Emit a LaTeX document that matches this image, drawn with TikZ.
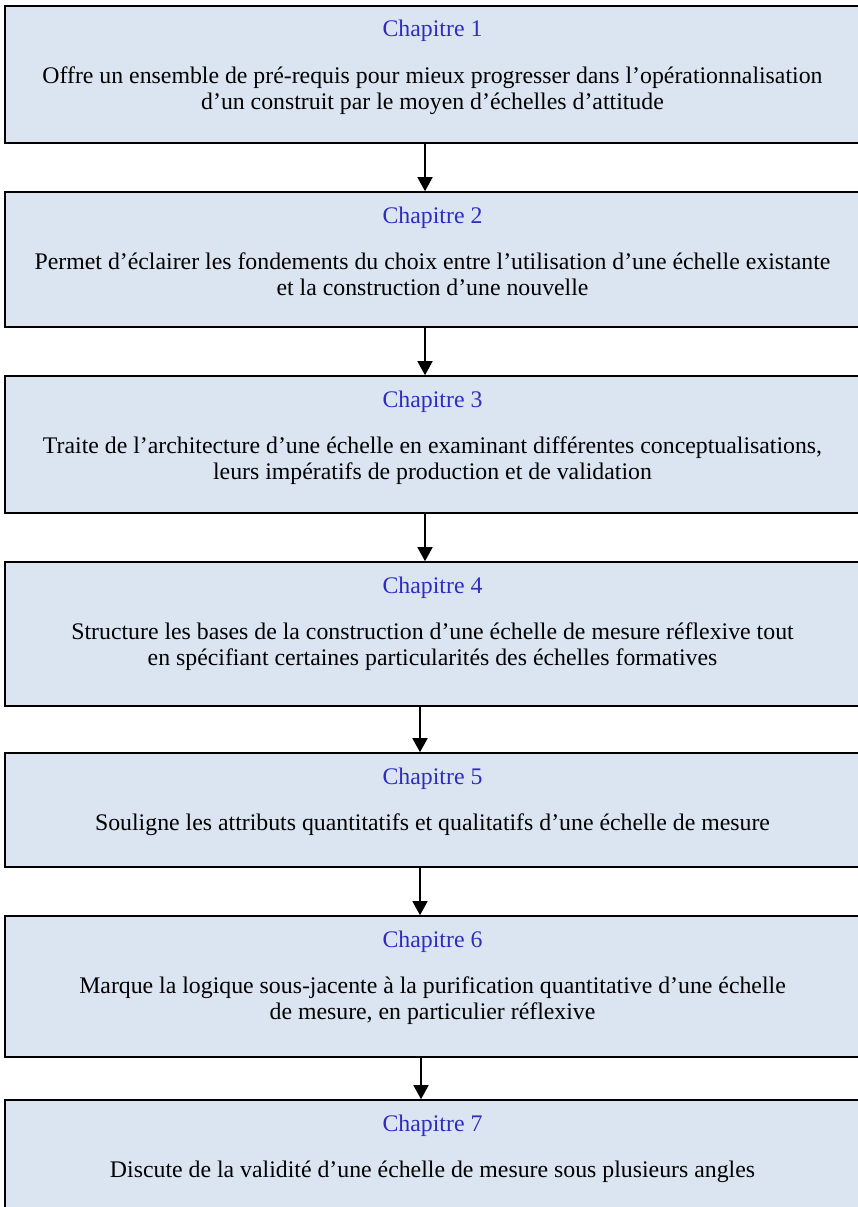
\documentclass[tikz,border=0pt]{standalone}
\usepackage{fontspec}
\setmainfont{Liberation Serif}
\usepackage{tikz}
\definecolor{boxfill}{RGB}{219, 229, 241}
\definecolor{chapblue}{RGB}{45, 45, 190}
\usetikzlibrary{arrows.meta}
\usetikzlibrary{positioning}

\begin{document}
\begin{tikzpicture}[
  chapbox/.style={rectangle, minimum width=855pt, fill=boxfill, line width=1.6pt, draw=black, inner sep=0pt},
  chaplabel/.style={anchor=base, inner sep=0pt, text=chapblue, font=\fontsize{23.8}{26.5}\selectfont},
  chaptext/.style={anchor=north, inner sep=0pt, align=center, font=\fontsize{23.8}{26.5}\selectfont},
  flow/.style={line width=1.6pt, -{Triangle[width=15pt, length=14pt]}}]
\clip (0pt, 0pt) rectangle (858pt, -1207pt);
% boxes
\node (c1) [chapbox, minimum height=137pt] at (432.5pt, -74.5pt) {};
\node (c2) [chapbox, minimum height=135pt] at (432.5pt, -259.5pt) {};
\node (c3) [chapbox, minimum height=137pt] at (432.5pt, -444.5pt) {};
\node (c4) [chapbox, minimum height=144pt] at (432.5pt, -634.0pt) {};
\node (c5) [chapbox, minimum height=114pt] at (432.5pt, -810.0pt) {};
\node (c6) [chapbox, minimum height=141pt] at (432.5pt, -986.5pt) {};
\node (c7) [chapbox, minimum height=120pt] at (432.5pt, -1160.0pt) {};
% titles
\node (l1) [chaplabel] at (432.5pt, -37pt) {Chapitre 1};
\node (l2) [chaplabel] at (432.5pt, -223pt) {Chapitre 2};
\node (l3) [chaplabel] at (432.5pt, -407pt) {Chapitre 3};
\node (l4) [chaplabel] at (432.5pt, -593pt) {Chapitre 4};
\node (l5) [chaplabel] at (432.5pt, -784pt) {Chapitre 5};
\node (l6) [chaplabel] at (432.5pt, -947pt) {Chapitre 6};
\node (l7) [chaplabel] at (432.5pt, -1131pt) {Chapitre 7};
% texts
\node (t1) [chaptext] at (432.5pt, -66.5pt) {Offre un ensemble de pré-requis pour mieux progresser dans l’opérationnalisation\\d’un construit par le moyen d’échelles d’attitude};
\node (t2) [chaptext] at (432.5pt, -252.5pt) {Permet d’éclairer les fondements du choix entre l’utilisation d’une échelle existante\\et la construction d’une nouvelle};
\node (t3) [chaptext] at (432.5pt, -436.5pt) {Traite de l’architecture d’une échelle en examinant différentes conceptualisations,\\leurs impératifs de production et de validation};
\node (t4) [chaptext] at (432.5pt, -622.5pt) {Structure les bases de la construction d’une échelle de mesure réflexive tout\\en spécifiant certaines particularités des échelles formatives};
\node (t5) [chaptext] at (432.5pt, -813.5pt) {Souligne les attributs quantitatifs et qualitatifs d’une échelle de mesure};
\node (t6) [chaptext] at (432.5pt, -976.5pt) {Marque la logique sous-jacente à la purification quantitative d’une échelle\\de mesure, en particulier réflexive};
\node (t7) [chaptext] at (432.5pt, -1160.5pt) {Discute de la validité d’une échelle de mesure sous plusieurs angles};
% arrows
\draw [flow] ([xshift=-7.5pt]c1.south) to ([xshift=-7.5pt]c2.north);
\draw [flow] ([xshift=-7.5pt]c2.south) to ([xshift=-7.5pt]c3.north);
\draw [flow] ([xshift=-7.5pt]c3.south) to ([xshift=-7.5pt]c4.north);
\draw [flow] ([xshift=-12.5pt]c4.south) to ([xshift=-12.5pt]c5.north);
\draw [flow] ([xshift=-12.5pt]c5.south) to ([xshift=-12.5pt]c6.north);
\draw [flow] ([xshift=-11.5pt]c6.south) to ([xshift=-11.5pt]c7.north);
\end{tikzpicture}
\end{document}
